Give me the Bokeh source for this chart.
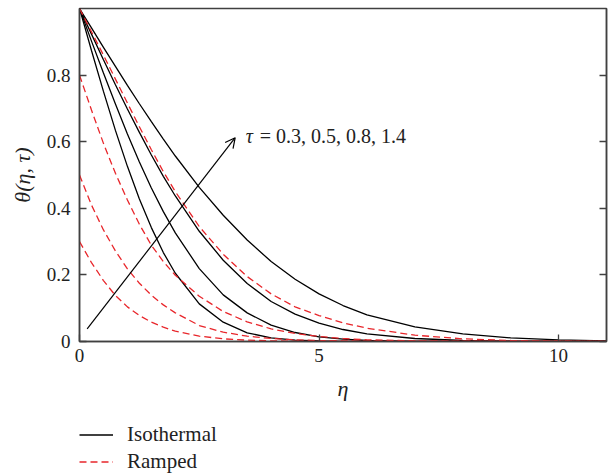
from bokeh.plotting import figure
from bokeh.layouts import column
from bokeh.models import (Range1d, Arrow, OpenHead, Label, Legend, LegendItem,
                          LinearAxis, FixedTicker, NumeralTickFormatter, CustomJSTickFormatter)
from bokeh.embed import file_html
from bokeh.resources import INLINE

# ---- data ----
eta = [0, 0.25, 0.5, 0.75, 1, 1.25, 1.5, 1.75, 2, 2.5, 3, 3.5, 4, 4.5, 5, 5.5, 6, 7, 8, 9, 10, 11]

iso_03 = [1, 0.874, 0.751, 0.634, 0.526, 0.428, 0.342, 0.267, 0.205, 0.113, 0.058, 0.026, 0.011, 0.004, 0.0015, 0.0005, 0, 0, 0, 0, 0, 0]
iso_05 = [1, 0.902, 0.806, 0.713, 0.623, 0.539, 0.461, 0.390, 0.326, 0.219, 0.140, 0.086, 0.049, 0.027, 0.014, 0.007, 0.003, 0.0005, 0, 0, 0, 0]
iso_08 = [1, 0.923, 0.846, 0.771, 0.698, 0.628, 0.560, 0.496, 0.437, 0.331, 0.244, 0.174, 0.120, 0.082, 0.055, 0.036, 0.023, 0.009, 0.003, 0.001, 0, 0]
iso_14 = [1, 0.942, 0.883, 0.826, 0.769, 0.714, 0.660, 0.608, 0.557, 0.463, 0.379, 0.305, 0.240, 0.187, 0.143, 0.108, 0.080, 0.044, 0.023, 0.011, 0.005, 0.002]

ramp_03 = [0.30, 0.237, 0.183, 0.138, 0.104, 0.078, 0.058, 0.043, 0.031, 0.016, 0.008, 0.004, 0.002, 0.001, 0, 0, 0, 0, 0, 0, 0, 0]
ramp_05 = [0.50, 0.41, 0.335, 0.272, 0.218, 0.175, 0.139, 0.110, 0.086, 0.048, 0.028, 0.016, 0.009, 0.005, 0.003, 0.002, 0.001, 0, 0, 0, 0, 0]
ramp_08 = [0.80, 0.695, 0.595, 0.505, 0.425, 0.352, 0.289, 0.240, 0.199, 0.136, 0.090, 0.059, 0.038, 0.024, 0.015, 0.009, 0.005, 0.002, 0.001, 0, 0, 0]
ramp_14 = [1.0, 0.930, 0.860, 0.788, 0.716, 0.645, 0.576, 0.510, 0.450, 0.345, 0.262, 0.195, 0.143, 0.104, 0.078, 0.056, 0.040, 0.019, 0.008, 0.003, 0.001, 0]

x_ticks = [0, 5, 10]
y_ticks = [0, 0.2, 0.4, 0.6, 0.8]
tau_text = "= 0.3, 0.5, 0.8, 1.4"
arrow_from = (0.16, 0.038)
arrow_to = (3.25, 0.612)
legend_labels = ["Isothermal", "Ramped"]

FONT = "Liberation Serif"
AX = "#404040"
TXT = "#222222"
RED = "#e8262b"

p = figure(width=608, height=410, x_range=Range1d(0, 11), y_range=Range1d(0, 1),
           output_backend="svg", toolbar_location=None,
           min_border_left=79, min_border_right=2, min_border_top=8, min_border_bottom=69)
p.grid.visible = False
p.outline_line_color = AX
p.outline_line_width = 1.5

for ys in (iso_03, iso_05, iso_08, iso_14):
    p.line(eta, ys, line_color="black", line_width=1.3)
for ys in (ramp_03, ramp_05, ramp_08, ramp_14):
    p.line(eta, ys, line_color=RED, line_width=1.3, line_dash="7 4")

for ax in (p.xaxis[0], p.yaxis[0]):
    ax.axis_line_color = AX
    ax.axis_line_width = 1.5
    ax.major_tick_in = 7
    ax.major_tick_out = 0
    ax.minor_tick_in = 0
    ax.minor_tick_out = 0
    ax.major_tick_line_color = AX
    ax.major_tick_line_width = 1.3
    ax.major_label_text_font = FONT
    ax.major_label_text_font_size = "19px"
    ax.major_label_text_color = TXT
    ax.axis_label_text_font = FONT
    ax.axis_label_text_font_size = "22px"
    ax.axis_label_text_font_style = "italic"
    ax.axis_label_text_color = TXT
    ax.formatter = NumeralTickFormatter(format="0.[0]")

p.xaxis[0].ticker = FixedTicker(ticks=x_ticks)
p.yaxis[0].ticker = FixedTicker(ticks=y_ticks)
p.xaxis[0].major_label_standoff = 7
p.yaxis[0].major_label_standoff = 9
p.xaxis[0].axis_label = "η"
p.yaxis[0].axis_label = "θ(η, τ)"
p.xaxis[0].axis_label_standoff = 11
p.yaxis[0].axis_label_standoff = 9

right = LinearAxis(ticker=FixedTicker(ticks=y_ticks), major_tick_in=7, major_tick_out=0,
                   minor_tick_in=0, minor_tick_out=0,
                   formatter=CustomJSTickFormatter(code="return ''"),
                   major_label_standoff=0, axis_line_color=AX, axis_line_width=1.5,
                   major_tick_line_color=AX, major_tick_line_width=1.3)
p.add_layout(right, "right")

p.add_layout(Arrow(end=OpenHead(size=10, line_width=1.2, line_color="black"),
                   x_start=arrow_from[0], y_start=arrow_from[1],
                   x_end=arrow_to[0], y_end=arrow_to[1],
                   line_color="black", line_width=1.2))

p.add_layout(Label(x=3.47, y=0.617, text="τ", text_font=FONT, text_font_size="20px",
                   text_font_style="italic", text_baseline="middle", text_color=TXT))
p.add_layout(Label(x=3.47, y=0.617, x_offset=14, text=tau_text, text_font=FONT,
                   text_font_size="20px", text_baseline="middle", text_color=TXT))

# legend strip below the plot (proxy glyphs lie outside its visible range)
q = figure(width=608, height=65, x_range=Range1d(0, 1), y_range=Range1d(0, 1),
           x_axis_location=None, y_axis_location=None,
           output_backend="svg", toolbar_location=None,
           min_border_left=79, min_border_right=0, min_border_top=0, min_border_bottom=0)
q.grid.visible = False
q.outline_line_alpha = 0
r_iso = q.line([-5, -4], [-5, -4], line_color="black", line_width=1.3)
r_ramp = q.line([-5, -4], [-5, -4], line_color=RED, line_width=1.3, line_dash="7 4")
legend = Legend(items=[LegendItem(label=legend_labels[0], renderers=[r_iso]),
                       LegendItem(label=legend_labels[1], renderers=[r_ramp])],
                location="bottom_left", orientation="vertical", padding=0, margin=0,
                border_line_alpha=0, background_fill_alpha=0,
                glyph_width=34, glyph_height=27, label_height=27, spacing=0,
                label_standoff=14, label_text_font=FONT, label_text_font_size="21px",
                label_text_color=TXT)
q.add_layout(legend)

layout = column(p, q, spacing=0)
open("out.html", "w").write(file_html(layout, INLINE))
